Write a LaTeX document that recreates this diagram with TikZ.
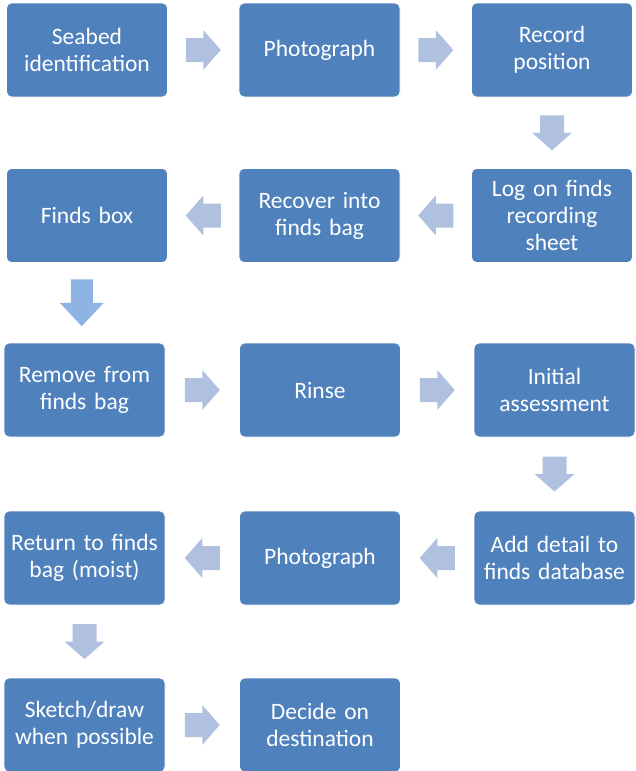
\documentclass[tikz,border=0pt]{standalone}
\usepackage{fontspec}
\setmainfont{Carlito}
\definecolor{boxblue}{HTML}{4F81BD}
\definecolor{arrowgray}{HTML}{B0C1DF}
\definecolor{arrowbright}{HTML}{8DB4E3}
\begin{document}
\begin{tikzpicture}[x=1pt,y=-1pt,
  stepbox/.style={draw=white, line width=0.8pt, fill=boxblue, rounded corners=5pt,
    minimum width=161pt, minimum height=94pt, inner sep=0pt, text=white,
    align=center, text width=154pt, font=\fontsize{23.5}{27}\selectfont},
  barrow/.pic={\fill[arrowgray] (-17.5,-12) -- (0,-12) -- (0,-20) -- (17.5,0) -- (0,20) -- (0,12) -- (-17.5,12) -- cycle;},
  bigarrow/.pic={\fill[arrowbright] (-23.5,-11) -- (0,-11) -- (0,-22) -- (23.5,0) -- (0,22) -- (0,11) -- (-23.5,11) -- cycle;}
]
\useasboundingbox (0,0) rectangle (636,771);
% row 1
\node[stepbox] (a1) at (87,50) {Seabed\\identification};
\node[stepbox] (a2) at (319.5,50) {Photograph};
\node[stepbox] (a3) at (552,50) {Record\\position};
% row 2
\node[stepbox] (b3) at (552,215.5) {Log on finds\\recording\\sheet};
\node[stepbox] (b2) at (319.5,215.5) {Recover into\\finds bag};
\node[stepbox] (b1) at (87,215.5) {Finds box};
% row 3
\node[stepbox] (c1) at (84.5,390) {Remove from\\finds bag};
\node[stepbox] (c2) at (320,390) {Rinse};
\node[stepbox] (c3) at (554.5,390) {Initial\\assessment};
% row 4
\node[stepbox] (d3) at (554.5,558) {Add detail to\\finds database};
\node[stepbox] (d2) at (320,558) {Photograph};
\node[stepbox] (d1) at (84.5,558) {Return to finds\\bag (moist)};
% row 5
\node[stepbox] (e1) at (84.5,725) {Sketch/draw\\when possible};
\node[stepbox] (e2) at (320,725) {Decide on\\destination};
% arrows
\path (a1.east) -- (a2.west) coordinate[midway] (m1);
\path (a2.east) -- (a3.west) coordinate[midway] (m2);
\path (a3.south) -- (b3.north) coordinate[midway] (m3);
\path (b3.west) -- (b2.east) coordinate[midway] (m4);
\path (b2.west) -- (b1.east) coordinate[midway] (m5);
\path (b1.south) -- (c1.north) coordinate[midway] (m6);
\path (c1.east) -- (c2.west) coordinate[midway] (m7);
\path (c2.east) -- (c3.west) coordinate[midway] (m8);
\path (c3.south) -- (d3.north) coordinate[midway] (m9);
\path (d3.west) -- (d2.east) coordinate[midway] (m10);
\path (d2.west) -- (d1.east) coordinate[midway] (m11);
\path (d1.south) -- (e1.north) coordinate[midway] (m12);
\path (e1.east) -- (e2.west) coordinate[midway] (m13);
\pic at (m1) {barrow};
\pic at (m2) {barrow};
\pic[rotate=-90] at (m3) {barrow};
\pic[rotate=180] at (m4) {barrow};
\pic[rotate=180] at (m5) {barrow};
\pic[rotate=-90] at ([xshift=-4pt]m6) {bigarrow};
\pic at (m7) {barrow};
\pic at (m8) {barrow};
\pic[rotate=-90] at (m9) {barrow};
\pic[rotate=180] at (m10) {barrow};
\pic[rotate=180] at (m11) {barrow};
\pic[rotate=-90] at (m12) {barrow};
\pic at (m13) {barrow};
\end{tikzpicture}
\end{document}
